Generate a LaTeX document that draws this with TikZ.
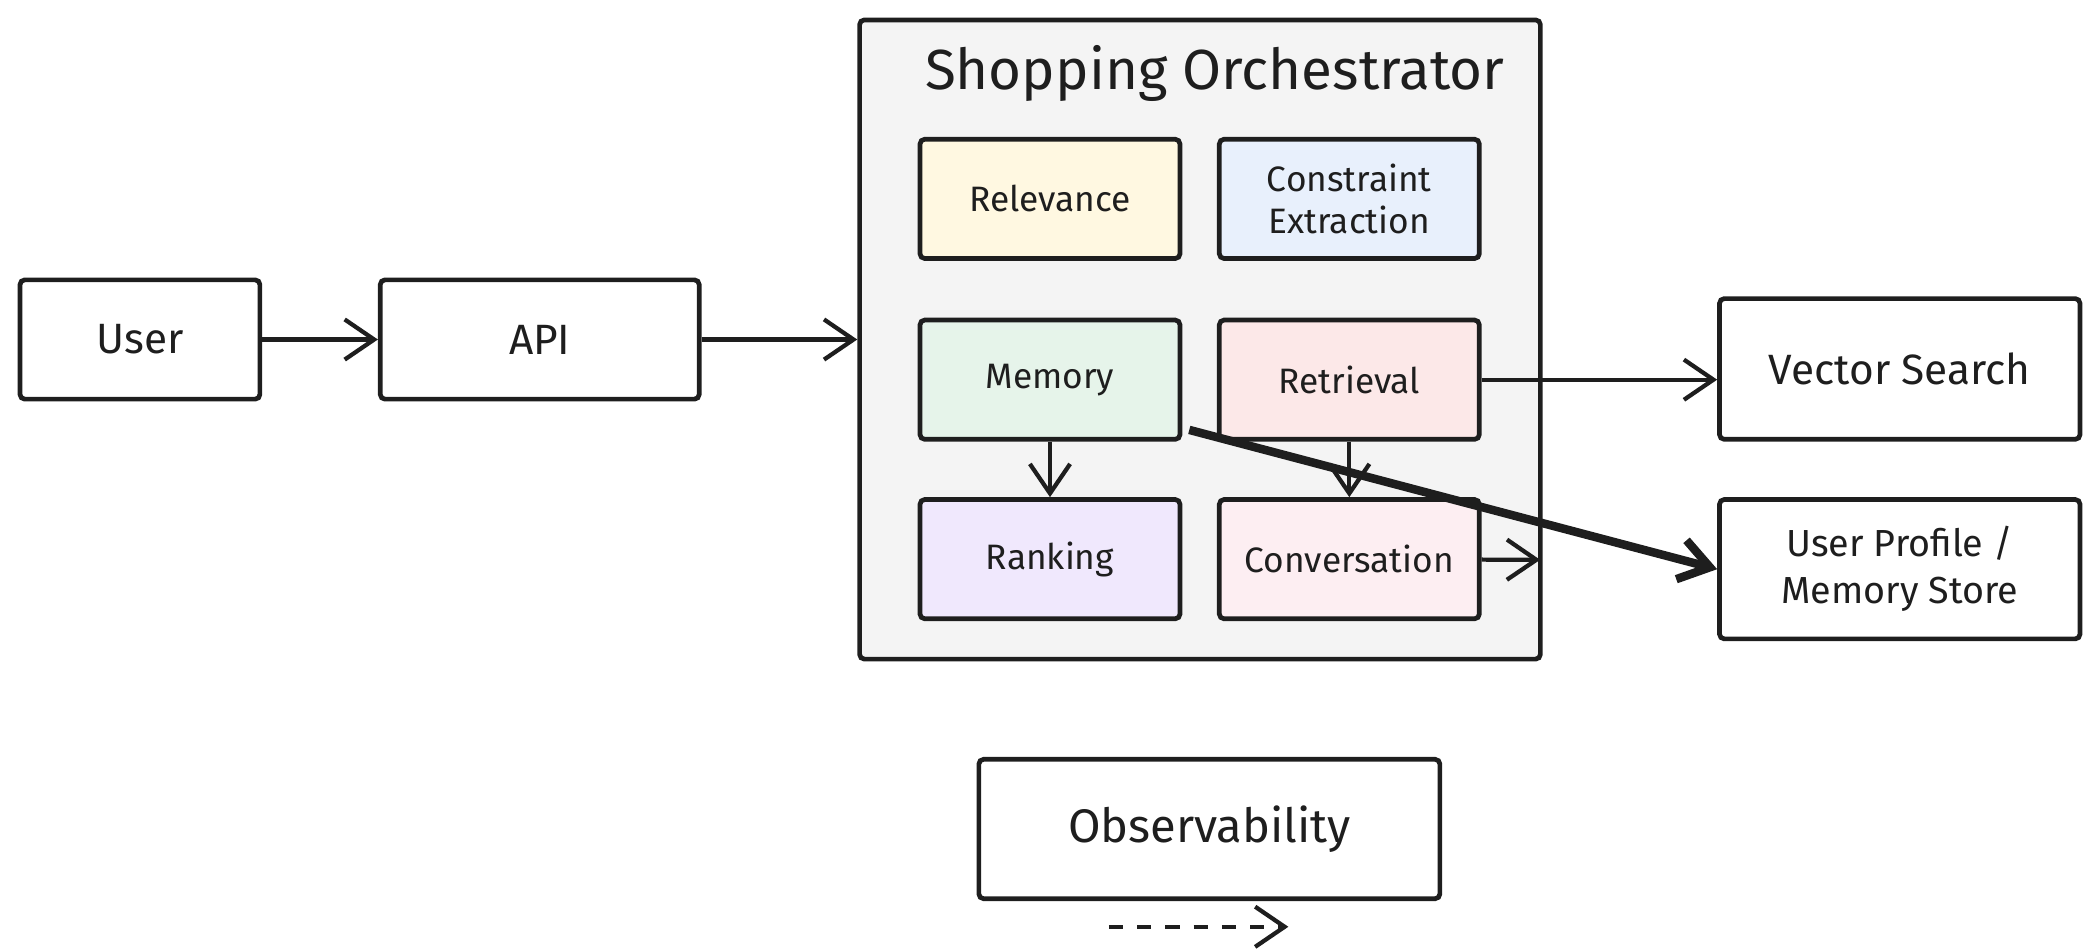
\documentclass[tikz,border=0pt]{standalone}
\usepackage{fontspec}
\setmainfont{Fira Sans}
\usetikzlibrary{arrows.meta}
\definecolor{orchgray}{HTML}{F4F4F4}
\definecolor{relfill}{HTML}{FFF8E1}
\definecolor{confill}{HTML}{E8F0FC}
\definecolor{memfill}{HTML}{E6F4EA}
\definecolor{retfill}{HTML}{FCE8E8}
\definecolor{rankfill}{HTML}{F0E8FD}
\definecolor{convfill}{HTML}{FDEEF2}
\definecolor{inkline}{HTML}{1E1E1E}
\tikzset{
  box/.style={draw=inkline, line width=1pt, rounded corners=1pt, align=center, font=\fontsize{9}{10}\selectfont, text=inkline},
  inner/.style={box, minimum width=1.94cm, minimum height=0.89cm, font=\fontsize{7.5}{9}\selectfont},
  link/.style={draw=inkline, line width=0.9pt, -{Straight Barb[length=2.2mm,width=3mm]}}
}
\begin{document}
\begin{tikzpicture}[x=0.01cm, y=-0.01cm]
  \useasboundingbox (0,0) rectangle (1568,709);
  % outer boxes
  \node[box, minimum width=1.79cm, minimum height=0.89cm] (user) at (104.5,253.5) {User};
  \node[box, minimum width=2.38cm, minimum height=0.89cm] (api) at (403,253.5) {API};
  \node[box, fill=orchgray, minimum width=5.08cm, minimum height=4.77cm] (orch) at (896,253.5) {};
  \node[font=\fontsize{12}{14}\selectfont, text=inkline] (title) at (907,55) {Shopping Orchestrator};
  % inner cells
  \node[inner, fill=relfill] (relevance) at (784,148.5) {Relevance};
  \node[inner, fill=confill] (constraint) at (1007.5,148.5) {Constraint\\Extraction};
  \node[inner, fill=memfill] (memory) at (784,283.5) {Memory};
  \node[inner, fill=retfill] (retrieval) at (1007.5,283.5) {Retrieval};
  \node[inner, fill=rankfill] (ranking) at (784,417.5) {Ranking};
  \node[inner, fill=convfill] (conversation) at (1007.5,417.5) {Conversation};
  % stores
  \node[box, minimum width=2.69cm, minimum height=1.05cm] (vector) at (1418.5,275.5) {Vector Search};
  \node[box, minimum width=2.69cm, minimum height=1.04cm, font=\fontsize{8}{10}\selectfont] (profile) at (1418.5,425) {User Profile /\\Memory Store};
  \node[box, minimum width=3.44cm, minimum height=1.04cm, font=\fontsize{10}{12}\selectfont] (obs) at (903,619) {Observability};
  \coordinate (convout) at (1150,418);
  \coordinate (memstart) at (888,321);
  \coordinate (legstart) at (828,692);
  \coordinate (legend) at (962,692);
  % connectors
  \draw[link] (user) -- (api);
  \draw[link] (api.east) -- (api.east -| orch.west);
  \draw[link] (retrieval) -- (retrieval -| vector.west);
  \draw[link] (memory) -- (ranking);
  \draw[link] (retrieval) -- (conversation);
  \draw[link] (conversation) -- (convout);
  \draw[link, line width=1.8pt] (memstart) -- (profile.west);
  \draw[link, dashed] (legstart) -- (legend);
\end{tikzpicture}
\end{document}
